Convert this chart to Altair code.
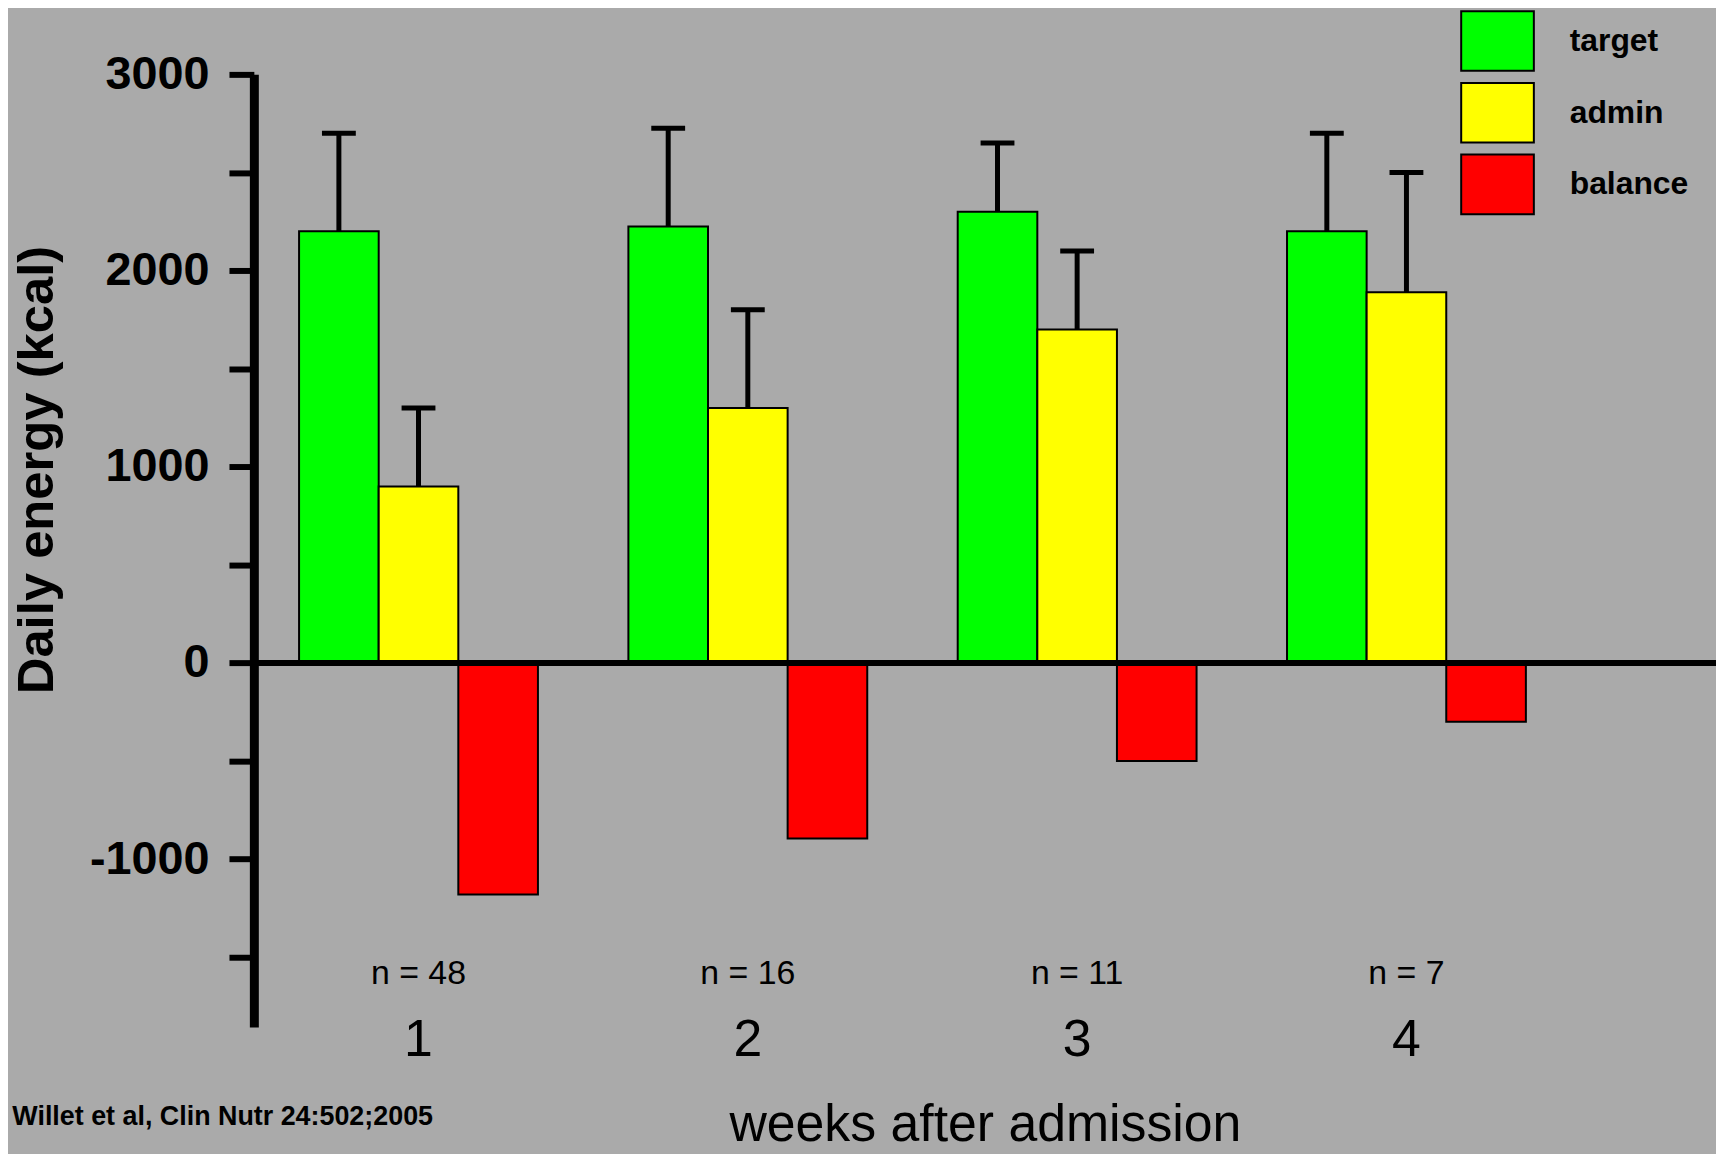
import altair as alt
import pandas as pd

weeks = ["1", "2", "3", "4"]
n_labels = ["n = 48", "n = 16", "n = 11", "n = 7"]
series = ["target", "admin", "balance"]
colors = ["#00FF00", "#FFFF00", "#FF0000"]
target = [2200, 2225, 2300, 2200]
target_err = [2700, 2725, 2650, 2700]
admin = [900, 1300, 1700, 1890]
admin_err = [1300, 1800, 2100, 2500]
balance = [-1180, -895, -500, -300]
y_ticks = [-1500, -1000, -500, 0, 500, 1000, 1500, 2000, 2500, 3000]
citation = "Willet et al, Clin Nutr 24:502;2005"

SANS = "Liberation Sans, Arial, sans-serif"

rows = []
for i, w in enumerate(weeks):
    rows.append({"week": w, "series": "target", "value": target[i], "err": target_err[i]})
    rows.append({"week": w, "series": "admin", "value": admin[i], "err": admin_err[i]})
    rows.append({"week": w, "series": "balance", "value": balance[i], "err": None})
df = pd.DataFrame(rows)
df_err = df.dropna(subset=["err"])
df_n = pd.DataFrame({"week": weeks, "n": n_labels})
df_cit = pd.DataFrame({"t": [citation]})

W, H = 1469, 957

x_enc = alt.X("week:N", sort=weeks,
              scale=alt.Scale(paddingInner=0, paddingOuter=0.22, align=0),
              axis=alt.Axis(title="weeks after admission", domain=False, ticks=False, tickSize=0,
                            labelAngle=0, labelFont=SANS, labelFontSize=52,
                            labelFontWeight="normal", labelColor="black",
                            labelPadding=13, labelBaseline="middle",
                            titleFont=SANS, titleFontSize=52, titleFontWeight="normal",
                            titleColor="black", titleY=114, titleBaseline="alphabetic"))
xo_enc = alt.XOffset("series:N", sort=series,
                     scale=alt.Scale(paddingInner=0, paddingOuter=0.568))
y_scale = alt.Scale(domain=[-1855, 3000], nice=False, zero=False)
y_enc = alt.Y("value:Q", scale=y_scale,
              axis=alt.Axis(title="Daily energy (kcal)", values=y_ticks, grid=False,
                            labelExpr="datum.value % 1000 === 0 ? '' + datum.value : ''",
                            labelFont=SANS, labelFontSize=47, labelFontWeight="bold",
                            labelColor="black", labelPadding=20,
                            tickSize=25, tickWidth=6, tickColor="black",
                            domainColor="black", domainWidth=9,
                            titleFont=SANS, titleFontSize=51, titleFontWeight="bold",
                            titleColor="black", titleX=-202, titleY=397,
                            titleBaseline="alphabetic", titleAngle=270))

bars = alt.Chart(df).mark_bar(stroke="black", strokeWidth=2).encode(
    x=x_enc, xOffset=xo_enc, y=y_enc,
    color=alt.Color("series:N", sort=series,
                    scale=alt.Scale(domain=series, range=colors),
                    legend=alt.Legend(title=None, orient="none", legendX=1212, legendY=-71,
                                      padding=0, rowPadding=0,
                                      symbolType="M-1,-0.82H1V0.82H-1Z", symbolSize=5329,
                                      symbolStrokeColor="black", symbolStrokeWidth=2,
                                      symbolOpacity=1,
                                      labelFont=SANS, labelFontSize=32, labelFontWeight="bold",
                                      labelColor="black", labelOffset=35)),
)

err_rules = alt.Chart(df_err).mark_rule(color="black", strokeWidth=5).encode(
    x=alt.X("week:N", sort=weeks), xOffset=alt.XOffset("series:N", sort=series),
    y=alt.Y("value:Q"), y2="err:Q",
)
caps = alt.Chart(df_err).mark_tick(color="black", thickness=5, size=34, opacity=1).encode(
    x=alt.X("week:N", sort=weeks), xOffset=alt.XOffset("series:N", sort=series),
    y=alt.Y("err:Q"),
)
zero = alt.Chart(pd.DataFrame({"z": [0]})).mark_rule(color="black", strokeWidth=6).encode(
    y=alt.Y("z:Q"), x=alt.value(0), x2=alt.value(W),
)
nlab = alt.Chart(df_n).mark_text(font=SANS, fontSize=34, color="black",
                                 baseline="middle", align="center").encode(
    x=alt.X("week:N", sort=weeks), text="n:N", y=alt.value(904),
)
cit = alt.Chart(df_cit).mark_text(font=SANS, fontSize=27, fontWeight="bold", color="black",
                                  align="right", baseline="alphabetic").encode(
    text="t:N", x=alt.value(180), y=alt.value(1056),
)

chart = alt.layer(bars, err_rules, caps, zero, nlab, cit).properties(
    width=W, height=H,
    autosize=alt.AutoSizeParams(type="none"),
    padding={"left": 247, "top": 64, "right": 0, "bottom": 125},
    background="#AAAAAA",
).configure_view(stroke=None)

chart.save("out.html", embed_options={"renderer": "svg", "actions": False})
